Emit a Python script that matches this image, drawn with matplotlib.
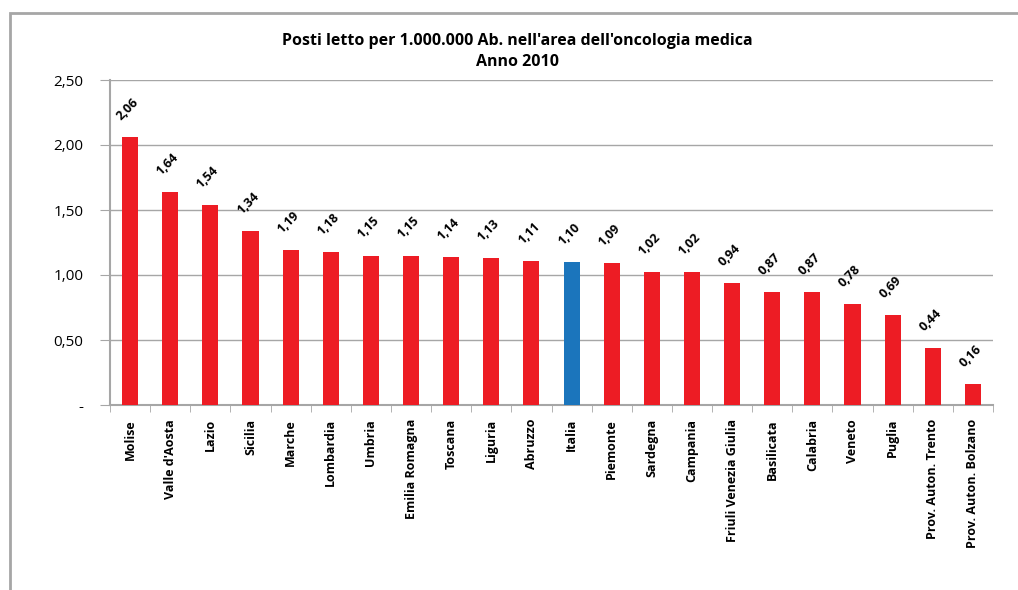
import matplotlib.pyplot as plt
import matplotlib.patches as patches
import numpy as np

regioni = ["Molise", "Valle d'Aosta", "Lazio", "Sicilia", "Marche", "Lombardia",
           "Umbria", "Emilia Romagna", "Toscana", "Liguria", "Abruzzo", "Italia",
           "Piemonte", "Sardegna", "Campania", "Friuli Venezia Giulia", "Basilicata",
           "Calabria", "Veneto", "Puglia", "Prov. Auton. Trento", "Prov. Auton. Bolzano"]
valori = [2.06, 1.64, 1.54, 1.34, 1.19, 1.18, 1.15, 1.15, 1.14, 1.13, 1.11, 1.10,
          1.09, 1.02, 1.02, 0.94, 0.87, 0.87, 0.78, 0.69, 0.44, 0.16]
yticks = [0, 0.5, 1.0, 1.5, 2.0, 2.5]
ytick_labels = ["-", "0,50", "1,00", "1,50", "2,00", "2,50"]

plt.rcParams['font.family'] = ['Open Sans', 'DejaVu Sans']

fig = plt.figure(figsize=(10.18, 5.90), dpi=100)
# cornice grigia esterna
fig.patches.append(patches.Rectangle((10/1018, -0.05), 1.0, 1 - 13/590 + 0.05,
                                     transform=fig.transFigure, fill=False,
                                     edgecolor="#a6a6a6", lw=2))
ax = fig.add_axes([110/1018, 1 - 405/590, 883/1018, 325/590])

x = np.arange(len(regioni))
colori = ["#1b75bc" if r == "Italia" else "#ed1c24" for r in regioni]
ax.bar(x, valori, width=0.4, color=colori, zorder=3)

for xi, v in zip(x, valori):
    ax.text(xi - 0.17, v + 0.11, ("%.2f" % v).replace(".", ","), rotation=45,
            ha="left", va="bottom", fontsize=9, fontweight="bold", rotation_mode="anchor")

ax.set_xlim(-0.5, len(regioni) - 0.5)
ax.set_ylim(0, 2.5)
ax.set_yticks(yticks)
ax.set_yticklabels(ytick_labels, fontsize=11)
ax.yaxis.grid(True, color="#a6a6a6", lw=1, zorder=0)
ax.set_xticks(x)
ax.set_xticklabels(regioni, rotation=90, fontsize=9, fontweight="bold", va="top")
ax.tick_params(axis="x", length=0, pad=10)
ax.set_xticks(np.arange(-0.5, len(regioni)), minor=True)
ax.tick_params(axis="x", which="minor", length=5, color="#a6a6a6")
ax.tick_params(axis="y", length=7, color="#a6a6a6", pad=12)
for s in ["top", "right"]:
    ax.spines[s].set_visible(False)
for s in ["left", "bottom"]:
    ax.spines[s].set_color("#a6a6a6")
    ax.spines[s].set_linewidth(1.5)

fig.text(517/1018, 1 - 41/590, "Posti letto per 1.000.000 Ab. nell'area dell'oncologia medica",
         ha="center", va="center", fontsize=11.5, fontweight="bold")
fig.text(517/1018, 1 - 62/590, "Anno 2010", ha="center", va="center",
         fontsize=11.5, fontweight="bold")

fig.savefig("out.png", dpi=100)
